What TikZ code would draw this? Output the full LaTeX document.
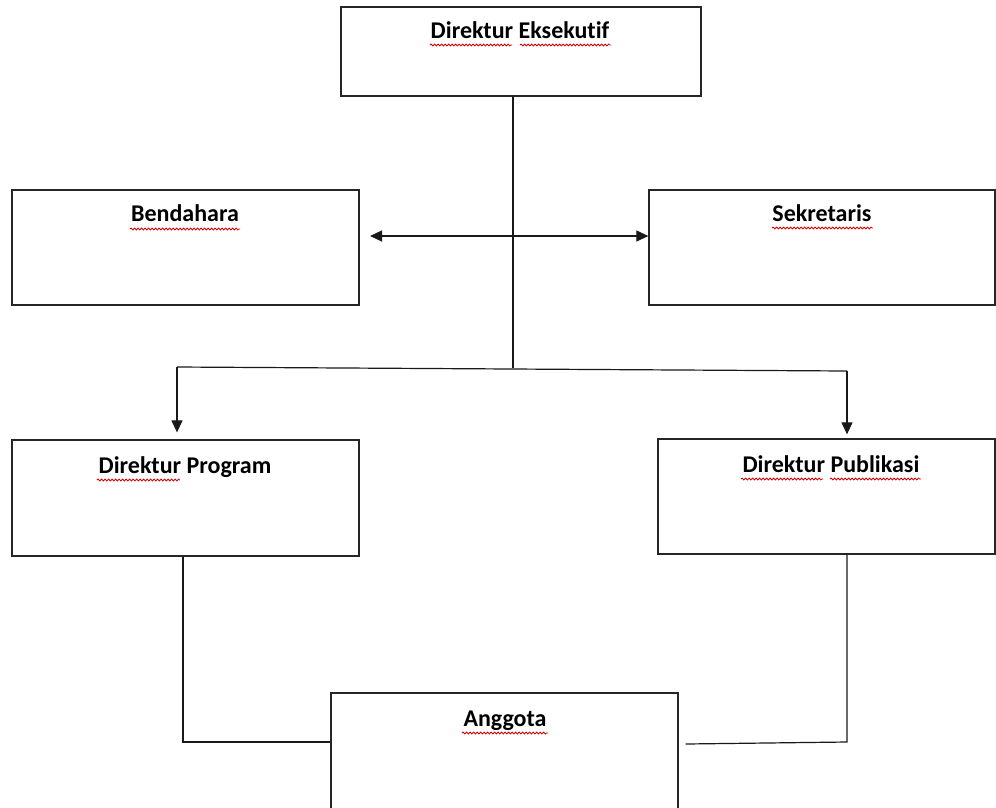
\documentclass[tikz,border=0pt]{standalone}
\usepackage{fontspec}
\setmainfont{Carlito}[Ligatures={NoCommon}]
\usetikzlibrary{arrows.meta,decorations.pathmorphing}
\tikzset{
  box/.style={draw=black!85, line width=1.3pt, rectangle, inner sep=0pt},
  lbl/.style={font=\bfseries\fontsize{24}{28}\selectfont, inner sep=0pt, anchor=base},
  conn/.style={draw=black!90, line width=1.2pt},
  tip/.style={-{Triangle[length=12pt,width=11pt]}},
  sq/.style={draw=red!85!black, line width=0.8pt, decorate, decoration={snake, amplitude=1pt, segment length=3.5pt}}
}
\begin{document}
\begin{tikzpicture}[x=1pt,y=-1pt]
\useasboundingbox (0,0) rectangle (996,807);
% boxes
\node[box, minimum width=360pt, minimum height=89pt] (eks) at (521,51.5) {};
\node[box, minimum width=347pt, minimum height=115pt] (ben) at (185.5,247.5) {};
\node[box, minimum width=346pt, minimum height=115pt] (sek) at (822,247.5) {};
\node[box, minimum width=347pt, minimum height=116pt] (prg) at (185.5,498) {};
\node[box, minimum width=337pt, minimum height=115pt] (pub) at (826.5,496.5) {};
\node[box, minimum width=347pt, minimum height=134pt] (ang) at (504.5,760) {};
% labels
\node[lbl] (eks-t) at (520,38) {Direktur Eksekutif};
\node[lbl] (ben-t) at (185,221) {Bendahara};
\node[lbl] (sek-t) at (822,221) {Sekretaris};
\node[lbl] (prg-t) at (185,473) {Direktur Program};
\node[lbl] (pub-t) at (831,472) {Direktur Publikasi};
\node[lbl] (ang-t) at (505,726) {Anggota};
% spell-check squiggles
\draw[sq] (430,45) -- (512,45);
\draw[sq] (520,45) -- (611,45);
\draw[sq] (130,229) -- (240,229);
\draw[sq] (772,228) -- (873,228);
\draw[sq] (97,480) -- (180,480);
\draw[sq] (741,479) -- (823,479);
\draw[sq] (830,479) -- (921,479);
\draw[sq] (462,733) -- (548,733);
% connectors
\coordinate (j1) at (513,368);
\coordinate (ha) at (370,236);
\coordinate (jl) at (177,367);
\coordinate (jr) at (847,371);
\coordinate (bl) at (183,742);
\coordinate (br) at (847,742);
\draw[conn] (eks.south -| j1) -- (j1);
\draw[conn, {Triangle[length=12pt,width=11pt]}-{Triangle[length=12pt,width=11pt]}] (ha) -- (ha -| sek.west);
\draw[conn] (jl) -- (jr);
\draw[conn, tip, shorten >=7pt] (jl) -- (jl |- prg.north);
\draw[conn, tip, shorten >=4pt] (jr) -- (jr |- pub.north);
\draw[conn] (prg.south -| bl) -- (bl) -- (bl -| ang.west);
\draw[conn] ([xshift=7pt]ang.east |- 0,744) -- (br) -- (br |- pub.south);
\end{tikzpicture}
\end{document}
